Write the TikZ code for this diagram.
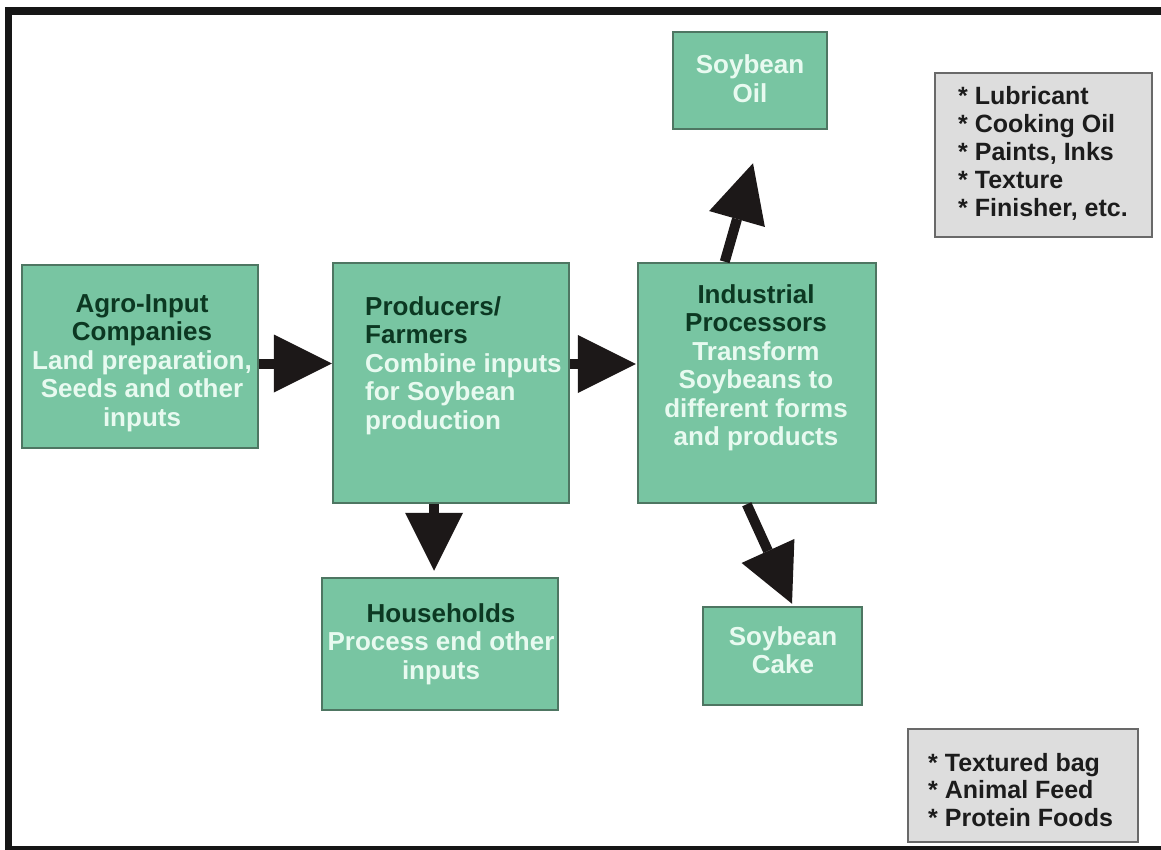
\documentclass[tikz,border=0pt]{standalone}
\usepackage{fontspec}
\setmainfont{Liberation Sans}
\usetikzlibrary{arrows.meta,calc}
\definecolor{gfill}{RGB}{120,197,162}
\definecolor{gline}{RGB}{78,118,98}
\definecolor{grayfill}{RGB}{221,221,221}
\definecolor{grayline}{RGB}{105,105,105}
\definecolor{tdark}{RGB}{12,56,34}
\definecolor{tlight}{RGB}{232,250,240}
\definecolor{listtext}{RGB}{28,28,28}
\definecolor{arrowc}{RGB}{28,24,24}
\definecolor{framec}{RGB}{22,22,22}
\newcommand{\boxhead}[1]{\textcolor{tdark}{#1}}
\begin{document}
\begin{tikzpicture}[x=1pt,y=-1pt,
  gbox/.style={draw=gline, line width=2.5pt, fill=gfill, inner sep=0pt},
  graybox/.style={draw=grayline, line width=2pt, fill=grayfill, inner sep=0pt},
  boxtext/.style={anchor=base, inner sep=0pt, text=tlight,
    font=\fontsize{26pt}{28.5pt}\selectfont\bfseries},
  listtxt/.style={anchor=base west, inner sep=0pt, text=listtext,
    font=\fontsize{25pt}{27.8pt}\selectfont\bfseries},
  blockarrow/.style={draw=arrowc, line width=10pt,
    -{Triangle[length=58pt,width=58pt,line width=0pt]}}
]
\useasboundingbox (0,0) rectangle (1161,850);
\fill[white] (0,0) rectangle (1161,850);
% frame
\draw[framec, line width=7.5pt, line join=miter] (1165,850) -- (8.5,850) -- (8.5,11) -- (1165,11);

% boxes
\node[gbox, minimum width=236pt, minimum height=183pt] (agro) at (140,356.5) {};
\node[gbox, minimum width=236pt, minimum height=240pt] (prod) at (451,383) {};
\node[gbox, minimum width=238pt, minimum height=240pt] (ind) at (757,383) {};
\node[gbox, minimum width=154pt, minimum height=97pt] (oil) at (750,80.5) {};
\node[gbox, minimum width=159pt, minimum height=98pt] (cake) at (782.5,656) {};
\node[gbox, minimum width=236pt, minimum height=132pt] (hh) at (440,644) {};
\node[graybox, minimum width=217pt, minimum height=164pt] (list1) at (1043.5,155) {};
\node[graybox, minimum width=230pt, minimum height=113pt] (list2) at (1023,785.5) {};

% texts
\node[boxtext] (agrot) at (142,312) {\begin{tabular}[t]{@{}c@{}}\boxhead{Agro-Input}\\\boxhead{Companies}\\Land preparation,\\Seeds and other\\inputs\end{tabular}};
\node[boxtext, anchor=base west] (prodt) at (365,315) {\begin{tabular}[t]{@{}l@{}}\boxhead{Producers/}\\\boxhead{Farmers}\\Combine inputs\\for Soybean\\production\end{tabular}};
\node[boxtext] (indt) at (756,303) {\begin{tabular}[t]{@{}c@{}}\boxhead{Industrial}\\\boxhead{Processors}\\Transform\\Soybeans to\\different forms\\and products\end{tabular}};
\node[boxtext] (hht) at (441,622) {\begin{tabular}[t]{@{}c@{}}\boxhead{Households}\\Process end other\\inputs\end{tabular}};
\node[boxtext] (oilt) at (750,74) {\begin{tabular}[t]{@{}c@{}}Soybean\\Oil\end{tabular}};
\node[boxtext] (caket) at (783,645) {\begin{tabular}[t]{@{}c@{}}Soybean\\Cake\end{tabular}};
\node[listtxt] (list1t) at (958,105) {\begin{tabular}[t]{@{}l@{}}* Lubricant\\{}* Cooking Oil\\{}* Paints, Inks\\{}* Texture\\{}* Finisher, etc.\end{tabular}};
\node[listtxt] (list2t) at (928,771) {\begin{tabular}[t]{@{}l@{}}* Textured bag\\{}* Animal Feed\\{}* Protein Foods\end{tabular}};

% arrows
\coordinate (a1s) at ($(agro.east)+(0,7)$);
\draw[blockarrow] (a1s) -- (a1s -| prod.west);
\coordinate (a2s) at ($(prod.east)+(0,-19)$);
\draw[blockarrow] (a2s) -- ($(a2s -| ind.west)+(-1,0)$);
\coordinate (a3s) at ($(prod.south)+(-17,0)$);
\coordinate (a3e) at ($(a3s |- hh.north)+(0,-6)$);
\draw[blockarrow] (a3s) -- (a3e);
\coordinate (a4s) at ($(ind.north west)+(88,0)$);
\coordinate (a4e) at ($(oil.south)+(3,33)$);
\draw[blockarrow] (a4s) -- (a4e);
\coordinate (a5s) at ($(ind.south west)+(110,0)$);
\coordinate (a5e) at ($(cake.north)+(9.5,-2)$);
\draw[blockarrow] (a5s) -- (a5e);
\end{tikzpicture}
\end{document}
